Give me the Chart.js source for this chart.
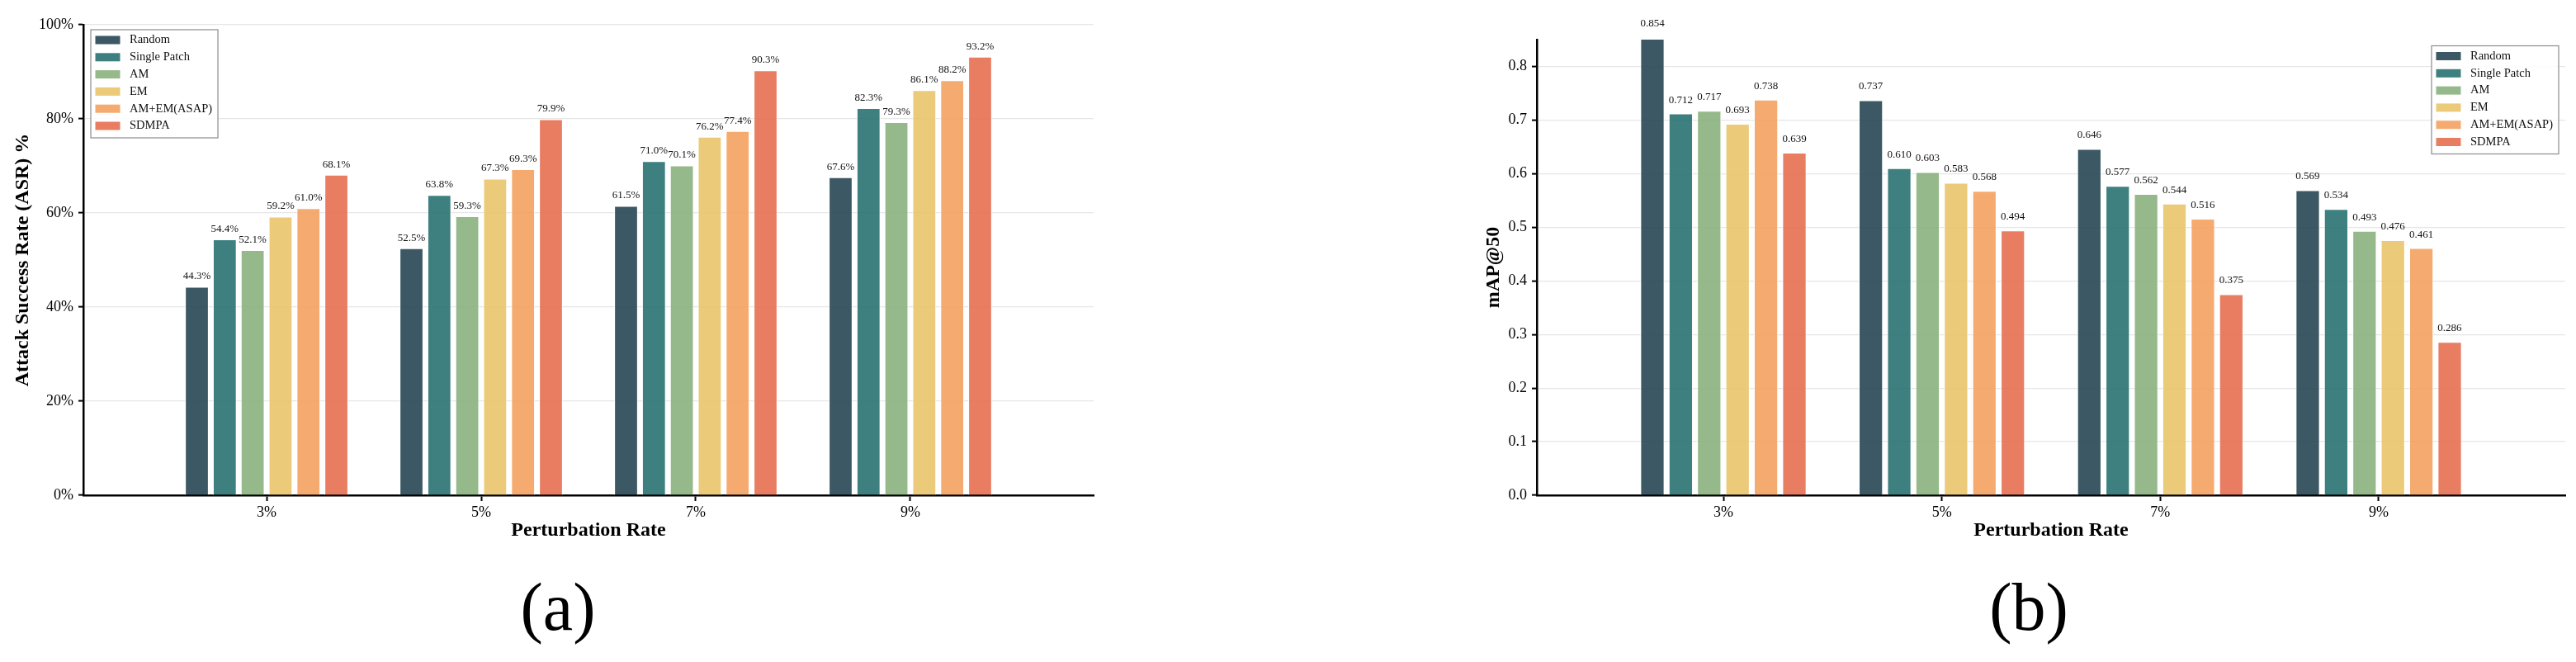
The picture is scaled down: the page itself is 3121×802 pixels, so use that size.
<!DOCTYPE html>
<html>
<head>
<meta charset="utf-8">
<script src="https://cdn.jsdelivr.net/npm/chart.js@4.4.0/dist/chart.umd.min.js"></script>
<style>
  html, body { margin: 0; padding: 0; background: #fff; }
  #page { position: relative; width: 3121px; height: 802px; overflow: hidden; }
  canvas { position: absolute; top: 0; }
  #chartA { left: 0; }
  #chartB { left: 1760px; }
  .panel {
    position: absolute; top: 695px; width: 200px; text-align: center;
    font-family: 'Liberation Serif', 'Times New Roman', serif;
    font-size: 82px; line-height: 82px; color: #000;
  }
</style>
</head>
<body>
<div id="page">
  <canvas id="chartA" width="1400" height="700"></canvas>
  <canvas id="chartB" width="1361" height="700"></canvas>
  <div class="panel" style="left:576px">(a)</div>
  <div class="panel" style="left:2358px">(b)</div>
</div>
<script>
const rates = ['3%', '5%', '7%', '9%'];
const methods = ['Random', 'Single Patch', 'AM', 'EM', 'AM+EM(ASAP)', 'SDMPA'];
const colors = ['#264653', '#287271', '#8ab17d', '#e9c46a', '#f4a261', '#e76f51'];

// (a) attack success rate, %
const asrRandom = [44.3, 52.5, 61.5, 67.6];
const asrSingle = [54.4, 63.8, 71.0, 82.3];
const asrAM     = [52.1, 59.3, 70.1, 79.3];
const asrEM     = [59.2, 67.3, 76.2, 86.1];
const asrASAP   = [61.0, 69.3, 77.4, 88.2];
const asrSDMPA  = [68.1, 79.9, 90.3, 93.2];

// (b) mAP@50
const mapRandom = [0.854, 0.737, 0.646, 0.569];
const mapSingle = [0.712, 0.610, 0.577, 0.534];
const mapAM     = [0.717, 0.603, 0.562, 0.493];
const mapEM     = [0.693, 0.583, 0.544, 0.476];
const mapASAP   = [0.738, 0.568, 0.516, 0.461];
const mapSDMPA  = [0.639, 0.494, 0.375, 0.286];

const serif = "'Liberation Serif', 'Times New Roman', serif";

function rgba(hex, a) {
  const n = parseInt(hex.slice(1), 16);
  return `rgba(${n >> 16}, ${(n >> 8) & 255}, ${n & 255}, ${a})`;
}

function makeDatasets(series) {
  return series.map((vals, i) => ({
    label: methods[i],
    data: vals.map((v, j) => ({ x: j, y: v })),
    backgroundColor: rgba(colors[i], 0.9),
    borderColor: 'rgba(255,255,255,0.9)',
    borderWidth: 1,
    barPercentage: 0.85,
    categoryPercentage: 0.78
  }));
}

// numbers above each bar
const valueLabels = {
  id: 'valueLabels',
  afterDatasetsDraw(chart, args, opts) {
    const ctx = chart.ctx;
    ctx.save();
    ctx.font = '13px ' + serif;
    ctx.fillStyle = '#111';
    ctx.textAlign = 'center';
    ctx.textBaseline = 'middle';
    chart.data.datasets.forEach((ds, i) => {
      chart.getDatasetMeta(i).data.forEach((bar, j) => {
        const v = ds.data[j].y;
        ctx.fillText(v.toFixed(opts.digits) + opts.suffix, bar.x, bar.y - opts.offset);
      });
    });
    ctx.restore();
  }
};

// matplotlib-like framed legend inside the plot
const boxLegend = {
  id: 'boxLegend',
  afterDraw(chart, args, opts) {
    const { ctx, chartArea } = chart;
    ctx.save();
    ctx.font = '14.5px ' + serif;
    const items = chart.data.datasets;
    const textW = Math.max(...items.map(d => ctx.measureText(d.label).width));
    const w = 47 + textW + 7;
    const h = 131;
    const left = opts.side === 'right' ? chartArea.right - opts.dx - w : chartArea.left + opts.dx;
    const top = chartArea.top + opts.dy;
    ctx.fillStyle = 'rgba(255,255,255,0.85)';
    ctx.fillRect(left, top, w, h);
    ctx.strokeStyle = '#8c8c8c';
    ctx.lineWidth = 1.2;
    ctx.strokeRect(left, top, w, h);
    ctx.textBaseline = 'middle';
    items.forEach((d, i) => {
      const cy = top + 12.5 + i * 20.8;
      ctx.fillStyle = d.backgroundColor;
      ctx.fillRect(left + 5.5, cy - 5, 30, 10);
      ctx.fillStyle = '#111';
      ctx.fillText(d.label, left + 47, cy);
    });
    ctx.restore();
  }
};

function makeOptions(c) {
  return {
    responsive: false,
    animation: false,
    devicePixelRatio: 1,
    layout: { padding: { left: 0, top: c.top, right: c.right, bottom: 0 } },
    plugins: {
      legend: { display: false },
      tooltip: { enabled: false },
      valueLabels: { digits: c.digits, suffix: c.suffix, offset: c.labelOffset },
      boxLegend: { side: c.legendSide, dx: c.legendDx, dy: c.legendDy }
    },
    scales: {
      x: {
        type: 'linear',
        offset: false,
        min: -0.854,
        max: 3.854,
        z: 1,
        afterFit: s => { s.height = 100; },
        grid: { offset: false, drawOnChartArea: false, drawTicks: true, tickLength: 7, tickColor: '#000', tickWidth: 2 },
        border: { color: '#000', width: 2.5 },
        ticks: {
          stepSize: 1, includeBounds: false, autoSkip: false, maxRotation: 0,
          padding: 3, color: '#000', font: { family: serif, size: 18 },
          callback: v => rates[v] ?? ''
        },
        title: {
          display: true, text: 'Perturbation Rate', color: '#000',
          font: { family: serif, size: 24, weight: 'bold' },
          padding: { top: 0, bottom: 42.6 }
        }
      },
      y: {
        min: 0,
        max: c.yMax,
        afterFit: s => { s.width = c.yWidth; },
        grid: { color: '#e6e6e6', lineWidth: 1.2, tickColor: '#000', tickLength: 6, tickWidth: 2 },
        border: { color: '#000', width: 2.5 },
        ticks: {
          stepSize: c.yStep, includeBounds: false, padding: 6, color: '#000',
          font: { family: serif, size: 18 },
          callback: c.yFmt
        },
        title: {
          display: true, text: c.yTitle, color: '#000',
          font: { family: serif, size: 24, weight: 'bold' },
          padding: { top: c.yTitlePad, bottom: 0 }
        }
      }
    }
  };
}

new Chart(document.getElementById('chartA'), {
  type: 'bar',
  data: { datasets: makeDatasets([asrRandom, asrSingle, asrAM, asrEM, asrASAP, asrSDMPA]) },
  options: makeOptions({
    top: 30, right: 75, yWidth: 101, yTitlePad: 13.6,
    yMax: 100, yStep: 20, yFmt: v => v + '%', yTitle: 'Attack Success Rate (ASR) %',
    digits: 1, suffix: '%', labelOffset: 12.5,
    legendSide: 'left', legendDx: 9, legendDy: 6
  }),
  plugins: [valueLabels, boxLegend]
});

new Chart(document.getElementById('chartB'), {
  type: 'bar',
  data: { datasets: makeDatasets([mapRandom, mapSingle, mapAM, mapEM, mapASAP, mapSDMPA]) },
  options: makeOptions({
    top: 48, right: 13, yWidth: 102, yTitlePad: 35.6,
    yMax: 0.85, yStep: 0.1, yFmt: v => v.toFixed(1), yTitle: 'mAP@50',
    digits: 3, suffix: '', labelOffset: 16.5,
    legendSide: 'right', legendDx: 8, legendDy: 7.5
  }),
  plugins: [valueLabels, boxLegend]
});
</script>
</body>
</html>
